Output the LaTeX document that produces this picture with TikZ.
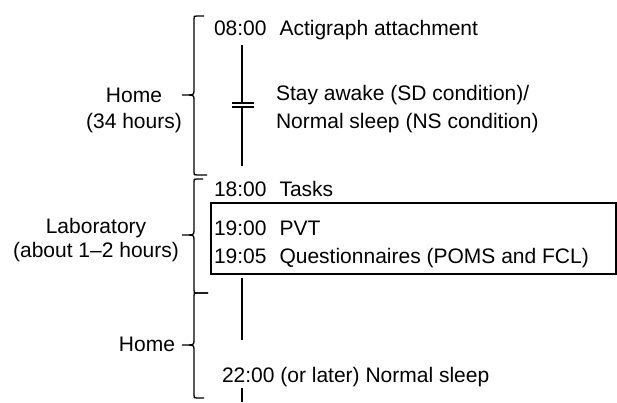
\documentclass[tikz,border=0pt]{standalone}
\usepackage{fontspec}
\setmainfont{Liberation Sans}
\newcommand{\curlyb}[6]{%
\draw[bracel] (#5,#2) -- ({#1+3},#2) .. controls (#1,#2) .. (#1,{#2+3}) -- (#1,{#3-4}) .. controls (#1,#3) and ({#1-2},#3) .. ({#1-5},#3) -- ({#1-12},#3);
\draw[bracel] ({#1-5},#3) .. controls ({#1-2},#3) and (#1,#3) .. (#1,{#3+4}) -- (#1,{#4-3}) .. controls (#1,#4) .. ({#1+3},#4) -- (#6,#4);
}
\begin{document}
\begin{tikzpicture}[x=1pt,y=-1pt,
  txt/.style={anchor=base west,inner sep=0pt,outer sep=0pt,font=\fontsize{21}{25}\selectfont},
  lbl/.style={anchor=base,inner sep=0pt,outer sep=0pt,font=\fontsize{21}{25}\selectfont},
  bracel/.style={line width=1.3pt},
  tline/.style={line width=1.1pt},
  boxl/.style={draw,line width=1.2pt}]
\useasboundingbox (0,0) rectangle (617,402);
% texts on the right
\node[txt] (t1) at (214,35) {08:00\hspace{13pt}Actigraph attachment};
\node[txt] (s1) at (276,100) {Stay awake (SD condition)/};
\node[txt] (s2) at (276,128) {Normal sleep (NS condition)};
\node[txt] (t2) at (214,196) {18:00\hspace{13pt}Tasks};
\node[txt] (t3) at (214,235) {19:00\hspace{13pt}PVT};
\node[txt] (t4) at (214,263) {19:05\hspace{13pt}Questionnaires (POMS and FCL)};
\node[txt] (t5) at (222,382) {22:00 (or later) Normal sleep};
% box
\draw[boxl] (211,203) rectangle (616,274);
% left labels
\node[lbl] (h1) at (134,102) {Home};
\node[lbl] (h1b) at (134,128) {(34 hours)};
\node[lbl] (l1) at (96,233) {Laboratory};
\node[lbl] (l1b) at (96,257) {(about 1--2 hours)};
\node[lbl,anchor=base east] (h2) at (175,351) {Home};
% braces
\curlyb{194}{16}{95}{175}{204}{207}
\curlyb{194}{179}{235}{293}{203}{208}
\curlyb{194}{293}{345}{398}{208}{204}
% timeline
\coordinate (a1) at (242,45);
\coordinate (a2) at (242,103);
\coordinate (a3) at (242,107);
\coordinate (a4) at (242,166);
\draw[tline] (a1) -- (a2);
\draw[tline] (a3) -- (a4);
\draw[tline] (232,103) -- (254,103);
\draw[tline] (232,107) -- (254,107);
\coordinate (b1) at (242,278);
\coordinate (b2) at (242,340);
\draw[tline] (b1) -- (b2);
\coordinate (c1) at (242,388);
\coordinate (c2) at (242,402);
\draw[tline] (c1) -- (c2);
\end{tikzpicture}
\end{document}
